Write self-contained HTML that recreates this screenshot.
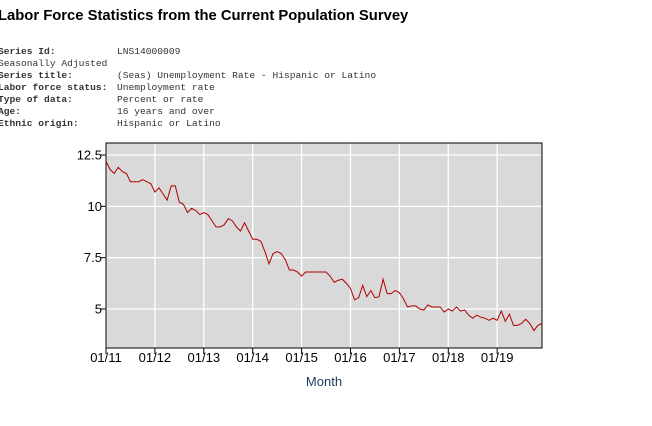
<!DOCTYPE html>
<html><head><meta charset="utf-8"><style>
body{margin:0;width:652px;height:426px;background:#fff;overflow:hidden;font-family:"Liberation Sans",sans-serif;position:relative}
#title{position:absolute;left:-2px;top:8px;font-size:14.8px;font-weight:bold;color:#000;white-space:nowrap}
.meta{position:absolute;left:-2px;font-family:"Liberation Mono",monospace;font-size:9.6px;color:#333;white-space:nowrap}
.meta b{display:inline-block;width:119px;font-weight:bold}
svg{position:absolute;left:0;top:0}
</style></head><body>
<div id="title">Labor Force Statistics from the Current Population Survey</div>
<div class="meta" style="top:46px"><b>Series Id:</b>LNS14000009</div>
<div class="meta" style="top:58px">Seasonally Adjusted</div>
<div class="meta" style="top:70px"><b>Series title:</b>(Seas) Unemployment Rate - Hispanic or Latino</div>
<div class="meta" style="top:82px"><b>Labor force status:</b>Unemployment rate</div>
<div class="meta" style="top:94px"><b>Type of data:</b>Percent or rate</div>
<div class="meta" style="top:106px"><b>Age:</b>16 years and over</div>
<div class="meta" style="top:118px"><b>Ethnic origin:</b>Hispanic or Latino</div>
<svg id="chart" width="652" height="426"></svg>
<script>
const yearLabels=["01/11","01/12","01/13","01/14","01/15","01/16","01/17","01/18","01/19"];
const yTicks=[5,7.5,10,12.5];
const yTickLabels=["5","7.5","10","12.5"];
const rates2011=[12.2,11.8,11.6,11.9,11.7,11.6,11.2,11.2,11.2,11.3,11.2,11.1];
const rates2012=[10.7,10.9,10.6,10.3,11.0,11.0,10.2,10.1,9.7,9.9,9.8,9.6];
const rates2013=[9.7,9.6,9.3,9.0,9.0,9.1,9.4,9.3,9.0,8.8,9.2,8.8];
const rates2014=[8.4,8.4,8.3,7.8,7.2,7.7,7.8,7.7,7.4,6.9,6.9,6.8];
const rates2015=[6.6,6.8,6.8,6.8,6.8,6.8,6.8,6.6,6.3,6.4,6.45,6.25];
const rates2016=[6.0,5.45,5.55,6.15,5.6,5.9,5.55,5.6,6.45,5.75,5.75,5.9];
const rates2017=[5.8,5.5,5.1,5.15,5.15,5.0,4.95,5.2,5.1,5.1,5.1,4.85];
const rates2018=[5.0,4.9,5.1,4.9,4.95,4.7,4.55,4.7,4.6,4.55,4.45,4.55];
const rates2019=[4.45,4.9,4.4,4.75,4.2,4.2,4.3,4.5,4.3,3.95,4.2,4.3];
const values=[].concat(rates2011,rates2012,rates2013,rates2014,rates2015,rates2016,rates2017,rates2018,rates2019);
const L=106,R=542,T=143,B=348;
const x=i=>L+i*(R-L)/(values.length-1);
const y=v=>309-(v-5)*20.53;
const svg=document.getElementById('chart');
const NS="http://www.w3.org/2000/svg";
function mk(tag,at){const e=document.createElementNS(NS,tag);for(const k in at)e.setAttribute(k,at[k]);svg.appendChild(e);return e;}
const bg=mk('rect',{x:L,y:T,width:R-L,height:B-T,fill:'#d9d9d9'});


yTicks.forEach((v,i)=>{
 const g=mk('line',{x1:L,x2:R,y1:y(v),y2:y(v),stroke:'#fff','stroke-width':1.3});
 
 
 mk('line',{x1:L-5,x2:L,y1:y(v),y2:y(v),stroke:'#000'});
 const t=mk('text',{x:L-4,y:y(v)+4.5,'text-anchor':'end','font-size':13,fill:'#000'});
 t.textContent=yTickLabels[i];
 
 
});
yearLabels.forEach((lab,i)=>{
 const xx=x(i*12);
 const g=mk('line',{x1:xx,x2:xx,y1:T,y2:B,stroke:'#fff','stroke-width':1.3});
 
 
 mk('line',{x1:xx,x2:xx,y1:B,y2:B+6,stroke:'#000'});
 const t=mk('text',{x:xx,y:B+14,'text-anchor':'middle','font-size':13,fill:'#000'});
 t.textContent=lab;
 
 
});
const fr=mk('rect',{x:L,y:T,width:R-L,height:B-T,fill:'none',stroke:'#000','stroke-width':1});


const line=mk('polyline',{points:values.map((v,i)=>x(i)+','+y(v)).join(' '),fill:'none',stroke:'#b00000','stroke-width':1});


const xt=mk('text',{x:(L+R)/2,y:386,'text-anchor':'middle','font-size':13,fill:'#1f3a5f'});
xt.textContent='Month';


</script>
</body></html>
